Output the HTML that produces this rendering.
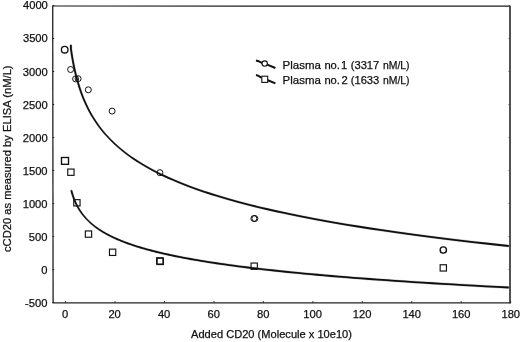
<!DOCTYPE html>
<html><head><meta charset="utf-8"><title>cCD20 ELISA</title>
<style>
html,body{margin:0;padding:0;background:#fff;}
svg{display:block;}
text{font-family:"Liberation Sans",Arial,sans-serif;font-size:11.2px;fill:#111;stroke:#111;stroke-width:0.25px;}
</style></head><body>
<svg width="520" height="342" viewBox="0 0 520 342">
<rect width="520" height="342" fill="#fff"/>
<g stroke="#222" fill="none">
<line x1="52.7" y1="6.0" x2="53.1" y2="303.0" stroke-width="1.3"/>
<line x1="52.5" y1="302.8" x2="510.7" y2="303.0" stroke-width="1.25"/>
<line x1="52.1" y1="6.0" x2="510.8" y2="6.2" stroke-width="1.15" stroke="#1a1a1a"/>
<line x1="510.0" y1="6.2" x2="510.0" y2="303.0" stroke-width="1.75" stroke="#3a3a3a"/>
<line x1="65.60" y1="303.0" x2="65.60" y2="301.2" stroke-width="1"/>
<line x1="115.05" y1="303.0" x2="115.05" y2="301.2" stroke-width="1"/>
<line x1="164.50" y1="303.0" x2="164.50" y2="301.2" stroke-width="1"/>
<line x1="213.95" y1="303.0" x2="213.95" y2="301.2" stroke-width="1"/>
<line x1="263.40" y1="303.0" x2="263.40" y2="301.2" stroke-width="1"/>
<line x1="312.85" y1="303.0" x2="312.85" y2="301.2" stroke-width="1"/>
<line x1="362.30" y1="303.0" x2="362.30" y2="301.2" stroke-width="1"/>
<line x1="411.75" y1="303.0" x2="411.75" y2="301.2" stroke-width="1"/>
<line x1="461.20" y1="303.0" x2="461.20" y2="301.2" stroke-width="1"/>
<line x1="510.65" y1="303.0" x2="510.65" y2="301.2" stroke-width="1"/>
<line x1="52.6" y1="302.50" x2="54.2" y2="302.50" stroke-width="1"/>
<line x1="510.0" y1="302.50" x2="508.5" y2="302.50" stroke-width="0.8" stroke="#444"/>
<line x1="52.6" y1="269.50" x2="54.2" y2="269.50" stroke-width="1"/>
<line x1="510.0" y1="269.50" x2="508.5" y2="269.50" stroke-width="0.8" stroke="#444"/>
<line x1="52.6" y1="236.50" x2="54.2" y2="236.50" stroke-width="1"/>
<line x1="510.0" y1="236.50" x2="508.5" y2="236.50" stroke-width="0.8" stroke="#444"/>
<line x1="52.6" y1="203.50" x2="54.2" y2="203.50" stroke-width="1"/>
<line x1="510.0" y1="203.50" x2="508.5" y2="203.50" stroke-width="0.8" stroke="#444"/>
<line x1="52.6" y1="170.50" x2="54.2" y2="170.50" stroke-width="1"/>
<line x1="510.0" y1="170.50" x2="508.5" y2="170.50" stroke-width="0.8" stroke="#444"/>
<line x1="52.6" y1="137.50" x2="54.2" y2="137.50" stroke-width="1"/>
<line x1="510.0" y1="137.50" x2="508.5" y2="137.50" stroke-width="0.8" stroke="#444"/>
<line x1="52.6" y1="104.50" x2="54.2" y2="104.50" stroke-width="1"/>
<line x1="510.0" y1="104.50" x2="508.5" y2="104.50" stroke-width="0.8" stroke="#444"/>
<line x1="52.6" y1="71.50" x2="54.2" y2="71.50" stroke-width="1"/>
<line x1="510.0" y1="71.50" x2="508.5" y2="71.50" stroke-width="0.8" stroke="#444"/>
<line x1="52.6" y1="38.50" x2="54.2" y2="38.50" stroke-width="1"/>
<line x1="510.0" y1="38.50" x2="508.5" y2="38.50" stroke-width="0.8" stroke="#444"/>
<line x1="52.6" y1="5.50" x2="54.2" y2="5.50" stroke-width="1"/>
<line x1="510.0" y1="5.50" x2="508.5" y2="5.50" stroke-width="0.8" stroke="#444"/>
</g>
<text x="65.10" y="318.3" text-anchor="middle">0</text>
<text x="114.62" y="318.3" text-anchor="middle">20</text>
<text x="164.13" y="318.3" text-anchor="middle">40</text>
<text x="213.65" y="318.3" text-anchor="middle">60</text>
<text x="263.17" y="318.3" text-anchor="middle">80</text>
<text x="312.68" y="318.3" text-anchor="middle">100</text>
<text x="362.20" y="318.3" text-anchor="middle">120</text>
<text x="411.72" y="318.3" text-anchor="middle">140</text>
<text x="461.23" y="318.3" text-anchor="middle">160</text>
<text x="510.75" y="318.3" text-anchor="middle">180</text>
<text x="47.40" y="307.25" text-anchor="end">-500</text>
<text x="47.45" y="274.15" text-anchor="end">0</text>
<text x="47.50" y="241.05" text-anchor="end">500</text>
<text x="47.55" y="207.95" text-anchor="end">1000</text>
<text x="47.60" y="174.85" text-anchor="end">1500</text>
<text x="47.65" y="141.75" text-anchor="end">2000</text>
<text x="47.70" y="108.65" text-anchor="end">2500</text>
<text x="47.75" y="75.55" text-anchor="end">3000</text>
<text x="47.80" y="42.45" text-anchor="end">3500</text>
<text x="47.85" y="9.35" text-anchor="end">4000</text>
<text x="191" y="337.6" style="font-size:10.8px" textLength="161" lengthAdjust="spacingAndGlyphs">Added CD20 (Molecule x 10e10)</text>
<text transform="translate(10.5,252.0) rotate(-90)" textLength="186.6" lengthAdjust="spacingAndGlyphs">cCD20 as measured by ELISA (nM/L)</text>
<path d="M70.85,44.10 L70.94,47.98 L71.11,49.21 L71.30,50.45 L71.48,51.68 L71.67,52.91 L71.87,54.14 L72.07,55.37 L72.28,56.61 L72.50,57.84 L72.71,59.07 L72.94,60.30 L73.17,61.53 L73.41,62.77 L73.65,64.00 L73.90,65.23 L74.16,66.46 L74.42,67.69 L74.69,68.92 L74.97,70.16 L75.25,71.39 L75.54,72.62 L75.84,73.85 L76.15,75.08 L76.47,76.32 L76.79,77.55 L77.12,78.78 L77.47,80.01 L77.82,81.24 L78.18,82.47 L78.55,83.71 L78.93,84.94 L79.32,86.17 L79.72,87.40 L80.13,88.63 L80.55,89.87 L80.98,91.10 L81.43,92.33 L81.89,93.56 L82.35,94.79 L82.84,96.02 L83.33,97.26 L83.84,98.49 L84.36,99.72 L84.89,100.95 L85.44,102.18 L86.00,103.42 L86.58,104.65 L87.17,105.88 L87.78,107.11 L88.41,108.34 L89.05,109.57 L89.71,110.81 L90.39,112.04 L91.08,113.27 L91.79,114.50 L92.53,115.73 L93.28,116.97 L94.05,118.20 L94.84,119.43 L95.65,120.66 L96.49,121.89 L97.35,123.13 L98.23,124.36 L99.13,125.59 L100.06,126.82 L101.01,128.05 L101.98,129.28 L102.99,130.52 L104.02,131.75 L105.07,132.98 L106.16,134.21 L107.27,135.44 L108.42,136.68 L109.59,137.91 L110.80,139.14 L112.03,140.37 L113.30,141.60 L114.61,142.83 L115.95,144.07 L117.32,145.30 L118.73,146.53 L120.18,147.76 L121.66,148.99 L123.19,150.23 L124.76,151.46 L126.37,152.69 L128.02,153.92 L129.71,155.15 L131.45,156.38 L133.24,157.62 L135.07,158.85 L136.96,160.08 L138.89,161.31 L140.87,162.54 L142.91,163.78 L145.00,165.01 L147.15,166.24 L149.35,167.47 L151.61,168.70 L153.94,169.93 L156.32,171.17 L158.77,172.40 L161.28,173.63 L163.86,174.86 L166.51,176.09 L169.23,177.33 L172.02,178.56 L174.88,179.79 L177.82,181.02 L180.84,182.25 L183.94,183.49 L187.12,184.72 L190.39,185.95 L193.74,187.18 L197.19,188.41 L200.72,189.64 L204.35,190.88 L208.07,192.11 L211.90,193.34 L215.82,194.57 L219.85,195.80 L223.99,197.04 L228.23,198.27 L232.59,199.50 L237.07,200.73 L241.66,201.96 L246.38,203.19 L251.22,204.43 L256.19,205.66 L261.30,206.89 L266.53,208.12 L271.91,209.35 L277.43,210.59 L283.10,211.82 L288.92,213.05 L294.89,214.28 L301.02,215.51 L307.32,216.74 L313.78,217.98 L320.42,219.21 L327.23,220.44 L334.22,221.67 L341.39,222.90 L348.76,224.14 L356.33,225.37 L364.09,226.60 L372.06,227.83 L380.25,229.06 L388.65,230.30 L397.27,231.53 L406.13,232.76 L415.22,233.99 L424.55,235.22 L434.12,236.45 L443.96,237.69 L454.05,238.92 L464.42,240.15 L475.06,241.38 L485.98,242.61 L497.19,243.85 L508.70,245.08 L508.70,246.88 L497.19,245.65 L485.98,244.41 L475.06,243.18 L464.42,241.95 L454.05,240.72 L443.96,239.49 L434.12,238.25 L424.55,237.02 L415.22,235.79 L406.13,234.56 L397.27,233.33 L388.65,232.10 L380.25,230.86 L372.06,229.63 L364.09,228.40 L356.33,227.17 L348.76,225.94 L341.39,224.70 L334.22,223.47 L327.23,222.24 L320.42,221.01 L313.78,219.78 L307.32,218.54 L301.02,217.31 L294.89,216.08 L288.92,214.85 L283.10,213.62 L277.43,212.39 L271.91,211.15 L266.53,209.92 L261.30,208.69 L256.19,207.46 L251.22,206.23 L246.38,204.99 L241.66,203.76 L237.07,202.53 L232.59,201.30 L228.23,200.07 L223.99,198.84 L219.85,197.60 L215.82,196.37 L211.90,195.14 L208.07,193.91 L204.35,192.68 L200.72,191.44 L197.19,190.21 L193.74,188.98 L190.39,187.75 L187.12,186.52 L183.94,185.29 L180.84,184.05 L177.82,182.82 L174.88,181.59 L172.02,180.36 L169.23,179.13 L166.51,177.89 L163.86,176.66 L161.28,175.43 L158.77,174.20 L156.32,172.97 L153.94,171.73 L151.61,170.50 L149.35,169.27 L147.15,168.04 L145.00,166.81 L142.91,165.58 L140.87,164.34 L138.89,163.11 L136.96,161.88 L135.07,160.65 L133.24,159.42 L131.45,158.18 L129.71,156.95 L128.02,155.72 L126.37,154.49 L124.76,153.26 L123.19,152.03 L121.66,150.79 L120.18,149.56 L118.73,148.33 L117.32,147.10 L115.95,145.87 L114.61,144.63 L113.30,143.40 L112.03,142.17 L110.80,140.94 L109.59,139.71 L108.42,138.48 L107.27,137.24 L106.16,136.01 L105.07,134.78 L104.02,133.55 L102.99,132.32 L101.98,131.08 L101.01,129.85 L100.06,128.62 L99.13,127.39 L98.23,126.16 L97.35,124.93 L96.49,123.69 L95.65,122.46 L94.84,121.23 L94.05,120.00 L93.28,118.77 L92.53,117.53 L91.79,116.30 L91.08,115.07 L90.39,113.84 L89.71,112.61 L89.05,111.37 L88.41,110.14 L87.78,108.91 L87.17,107.68 L86.58,106.45 L86.00,105.22 L85.44,103.98 L84.89,102.75 L84.36,101.52 L83.84,100.29 L83.33,99.06 L82.84,97.82 L82.35,96.59 L81.89,95.36 L81.43,94.13 L80.98,92.90 L80.55,91.67 L80.13,90.43 L79.72,89.20 L79.32,87.97 L78.93,86.74 L78.55,85.51 L78.18,84.27 L77.82,83.04 L77.47,81.81 L77.12,80.58 L76.79,79.35 L76.47,78.12 L76.15,76.88 L75.84,75.65 L75.54,74.42 L75.25,73.19 L74.97,71.96 L74.69,70.72 L74.42,69.49 L74.16,68.26 L73.90,67.03 L73.65,65.80 L73.41,64.57 L73.17,63.33 L72.94,62.10 L72.71,60.87 L72.50,59.64 L72.28,58.41 L72.07,57.17 L71.87,55.94 L71.67,54.71 L71.48,53.48 L71.30,52.25 L71.11,51.01 L70.94,49.78 L70.85,45.90Z M71.75,45.00 L71.84,48.88 L72.01,50.11 L72.20,51.35 L72.38,52.58 L72.57,53.81 L72.77,55.04 L72.97,56.27 L73.18,57.51 L73.40,58.74 L73.61,59.97 L73.84,61.20 L74.07,62.43 L74.31,63.67 L74.55,64.90 L74.80,66.13 L75.06,67.36 L75.32,68.59 L75.59,69.82 L75.87,71.06 L76.15,72.29 L76.44,73.52 L76.74,74.75 L77.05,75.98 L77.37,77.22 L77.69,78.45 L78.02,79.68 L78.37,80.91 L78.72,82.14 L79.08,83.37 L79.45,84.61 L79.83,85.84 L80.22,87.07 L80.62,88.30 L81.03,89.53 L81.45,90.77 L81.88,92.00 L82.33,93.23 L82.79,94.46 L83.25,95.69 L83.74,96.92 L84.23,98.16 L84.74,99.39 L85.26,100.62 L85.79,101.85 L86.34,103.08 L86.90,104.32 L87.48,105.55 L88.07,106.78 L88.68,108.01 L89.31,109.24 L89.95,110.47 L90.61,111.71 L91.29,112.94 L91.98,114.17 L92.69,115.40 L93.43,116.63 L94.18,117.87 L94.95,119.10 L95.74,120.33 L96.55,121.56 L97.39,122.79 L98.25,124.03 L99.13,125.26 L100.03,126.49 L100.96,127.72 L101.91,128.95 L102.88,130.18 L103.89,131.42 L104.92,132.65 L105.97,133.88 L107.06,135.11 L108.17,136.34 L109.32,137.58 L110.49,138.81 L111.70,140.04 L112.93,141.27 L114.20,142.50 L115.51,143.73 L116.85,144.97 L118.22,146.20 L119.63,147.43 L121.08,148.66 L122.56,149.89 L124.09,151.13 L125.66,152.36 L127.27,153.59 L128.92,154.82 L130.61,156.05 L132.35,157.28 L134.14,158.52 L135.97,159.75 L137.86,160.98 L139.79,162.21 L141.77,163.44 L143.81,164.68 L145.90,165.91 L148.05,167.14 L150.25,168.37 L152.51,169.60 L154.84,170.83 L157.22,172.07 L159.67,173.30 L162.18,174.53 L164.76,175.76 L167.41,176.99 L170.13,178.23 L172.92,179.46 L175.78,180.69 L178.72,181.92 L181.74,183.15 L184.84,184.39 L188.02,185.62 L191.29,186.85 L194.64,188.08 L198.09,189.31 L201.62,190.54 L205.25,191.78 L208.97,193.01 L212.80,194.24 L216.72,195.47 L220.75,196.70 L224.89,197.94 L229.13,199.17 L233.49,200.40 L237.97,201.63 L242.56,202.86 L247.28,204.09 L252.12,205.33 L257.09,206.56 L262.20,207.79 L267.43,209.02 L272.81,210.25 L278.33,211.49 L284.00,212.72 L289.82,213.95 L295.79,215.18 L301.92,216.41 L308.22,217.64 L314.68,218.88 L321.32,220.11 L328.13,221.34 L335.12,222.57 L342.29,223.80 L349.66,225.04 L357.23,226.27 L364.99,227.50 L372.96,228.73 L381.15,229.96 L389.55,231.20 L398.17,232.43 L407.03,233.66 L416.12,234.89 L425.45,236.12 L435.02,237.35 L444.86,238.59 L454.95,239.82 L465.32,241.05 L475.96,242.28 L486.88,243.51 L498.09,244.75 L509.60,245.98 L507.80,245.98 L496.29,244.75 L485.08,243.51 L474.16,242.28 L463.52,241.05 L453.15,239.82 L443.06,238.59 L433.22,237.35 L423.65,236.12 L414.32,234.89 L405.23,233.66 L396.37,232.43 L387.75,231.20 L379.35,229.96 L371.16,228.73 L363.19,227.50 L355.43,226.27 L347.86,225.04 L340.49,223.80 L333.32,222.57 L326.33,221.34 L319.52,220.11 L312.88,218.88 L306.42,217.64 L300.12,216.41 L293.99,215.18 L288.02,213.95 L282.20,212.72 L276.53,211.49 L271.01,210.25 L265.63,209.02 L260.40,207.79 L255.29,206.56 L250.32,205.33 L245.48,204.09 L240.76,202.86 L236.17,201.63 L231.69,200.40 L227.33,199.17 L223.09,197.94 L218.95,196.70 L214.92,195.47 L211.00,194.24 L207.17,193.01 L203.45,191.78 L199.82,190.54 L196.29,189.31 L192.84,188.08 L189.49,186.85 L186.22,185.62 L183.04,184.39 L179.94,183.15 L176.92,181.92 L173.98,180.69 L171.12,179.46 L168.33,178.23 L165.61,176.99 L162.96,175.76 L160.38,174.53 L157.87,173.30 L155.42,172.07 L153.04,170.83 L150.71,169.60 L148.45,168.37 L146.25,167.14 L144.10,165.91 L142.01,164.68 L139.97,163.44 L137.99,162.21 L136.06,160.98 L134.17,159.75 L132.34,158.52 L130.55,157.28 L128.81,156.05 L127.12,154.82 L125.47,153.59 L123.86,152.36 L122.29,151.13 L120.76,149.89 L119.28,148.66 L117.83,147.43 L116.42,146.20 L115.05,144.97 L113.71,143.73 L112.40,142.50 L111.13,141.27 L109.90,140.04 L108.69,138.81 L107.52,137.58 L106.37,136.34 L105.26,135.11 L104.17,133.88 L103.12,132.65 L102.09,131.42 L101.08,130.18 L100.11,128.95 L99.16,127.72 L98.23,126.49 L97.33,125.26 L96.45,124.03 L95.59,122.79 L94.75,121.56 L93.94,120.33 L93.15,119.10 L92.38,117.87 L91.63,116.63 L90.89,115.40 L90.18,114.17 L89.49,112.94 L88.81,111.71 L88.15,110.47 L87.51,109.24 L86.88,108.01 L86.27,106.78 L85.68,105.55 L85.10,104.32 L84.54,103.08 L83.99,101.85 L83.46,100.62 L82.94,99.39 L82.43,98.16 L81.94,96.92 L81.45,95.69 L80.99,94.46 L80.53,93.23 L80.08,92.00 L79.65,90.77 L79.23,89.53 L78.82,88.30 L78.42,87.07 L78.03,85.84 L77.65,84.61 L77.28,83.37 L76.92,82.14 L76.57,80.91 L76.22,79.68 L75.89,78.45 L75.57,77.22 L75.25,75.98 L74.94,74.75 L74.64,73.52 L74.35,72.29 L74.07,71.06 L73.79,69.82 L73.52,68.59 L73.26,67.36 L73.00,66.13 L72.75,64.90 L72.51,63.67 L72.27,62.43 L72.04,61.20 L71.81,59.97 L71.60,58.74 L71.38,57.51 L71.17,56.27 L70.97,55.04 L70.77,53.81 L70.58,52.58 L70.40,51.35 L70.21,50.11 L70.04,48.88 L69.95,45.00Z" fill="#111" fill-rule="nonzero" stroke="#111" stroke-width="0.2" stroke-linejoin="round"/>
<path d="M71.33,189.61 L71.50,190.22 L71.66,190.83 L71.84,191.43 L72.01,192.04 L72.20,192.64 L72.38,193.25 L72.57,193.86 L72.77,194.46 L72.97,195.07 L73.18,195.67 L73.39,196.28 L73.61,196.89 L73.84,197.49 L74.07,198.10 L74.31,198.71 L74.55,199.31 L74.80,199.92 L75.06,200.52 L75.33,201.13 L75.60,201.74 L75.88,202.34 L76.17,202.95 L76.46,203.55 L76.76,204.16 L77.07,204.77 L77.39,205.37 L77.72,205.98 L78.06,206.58 L78.41,207.19 L78.76,207.80 L79.13,208.40 L79.51,209.01 L79.89,209.62 L80.29,210.22 L80.70,210.83 L81.11,211.43 L81.54,212.04 L81.99,212.65 L82.44,213.25 L82.90,213.86 L83.38,214.46 L83.88,215.07 L84.38,215.68 L84.90,216.28 L85.43,216.89 L85.98,217.50 L86.54,218.10 L87.12,218.71 L87.72,219.31 L88.33,219.92 L88.95,220.53 L89.60,221.13 L90.26,221.74 L90.94,222.34 L91.63,222.95 L92.35,223.56 L93.09,224.16 L93.84,224.77 L94.62,225.38 L95.42,225.98 L96.24,226.59 L97.08,227.19 L97.95,227.80 L98.84,228.41 L99.75,229.01 L100.69,229.62 L101.65,230.22 L102.64,230.83 L103.66,231.44 L104.70,232.04 L105.78,232.65 L106.88,233.25 L108.01,233.86 L109.18,234.47 L110.37,235.07 L111.60,235.68 L112.86,236.29 L114.16,236.89 L115.49,237.50 L116.85,238.10 L118.26,238.71 L119.70,239.32 L121.19,239.92 L122.71,240.53 L124.27,241.13 L125.88,241.74 L127.53,242.35 L129.23,242.95 L130.97,243.56 L132.76,244.17 L134.60,244.77 L136.49,245.38 L138.43,245.98 L140.42,246.59 L142.47,247.20 L144.57,247.80 L146.73,248.41 L148.95,249.01 L151.23,249.62 L153.57,250.23 L155.98,250.83 L158.45,251.44 L160.99,252.05 L163.60,252.65 L166.28,253.26 L169.03,253.86 L171.86,254.47 L174.76,255.08 L177.75,255.68 L180.81,256.29 L183.96,256.89 L187.20,257.50 L190.52,258.11 L193.93,258.71 L197.44,259.32 L201.04,259.92 L204.74,260.53 L208.54,261.14 L212.45,261.74 L216.46,262.35 L220.58,262.96 L224.82,263.56 L229.17,264.17 L233.63,264.77 L238.22,265.38 L242.94,265.99 L247.78,266.59 L252.76,267.20 L257.87,267.80 L263.12,268.41 L268.51,269.02 L274.05,269.62 L279.75,270.23 L285.59,270.84 L291.60,271.44 L297.77,272.05 L304.11,272.65 L310.62,273.26 L317.31,273.87 L324.18,274.47 L331.24,275.08 L338.50,275.68 L345.95,276.29 L353.60,276.90 L361.46,277.50 L369.54,278.11 L377.83,278.72 L386.36,279.32 L395.11,279.93 L404.10,280.53 L413.34,281.14 L422.83,281.75 L432.58,282.35 L442.60,282.96 L452.89,283.56 L463.46,284.17 L474.32,284.78 L485.47,285.38 L496.93,285.99 L508.70,286.59 L508.70,288.39 L496.93,287.79 L485.47,287.18 L474.32,286.58 L463.46,285.97 L452.89,285.36 L442.60,284.76 L432.58,284.15 L422.83,283.55 L413.34,282.94 L404.10,282.33 L395.11,281.73 L386.36,281.12 L377.83,280.52 L369.54,279.91 L361.46,279.30 L353.60,278.70 L345.95,278.09 L338.50,277.48 L331.24,276.88 L324.18,276.27 L317.31,275.67 L310.62,275.06 L304.11,274.45 L297.77,273.85 L291.60,273.24 L285.59,272.64 L279.75,272.03 L274.05,271.42 L268.51,270.82 L263.12,270.21 L257.87,269.60 L252.76,269.00 L247.78,268.39 L242.94,267.79 L238.22,267.18 L233.63,266.57 L229.17,265.97 L224.82,265.36 L220.58,264.76 L216.46,264.15 L212.45,263.54 L208.54,262.94 L204.74,262.33 L201.04,261.72 L197.44,261.12 L193.93,260.51 L190.52,259.91 L187.20,259.30 L183.96,258.69 L180.81,258.09 L177.75,257.48 L174.76,256.88 L171.86,256.27 L169.03,255.66 L166.28,255.06 L163.60,254.45 L160.99,253.85 L158.45,253.24 L155.98,252.63 L153.57,252.03 L151.23,251.42 L148.95,250.81 L146.73,250.21 L144.57,249.60 L142.47,249.00 L140.42,248.39 L138.43,247.78 L136.49,247.18 L134.60,246.57 L132.76,245.97 L130.97,245.36 L129.23,244.75 L127.53,244.15 L125.88,243.54 L124.27,242.93 L122.71,242.33 L121.19,241.72 L119.70,241.12 L118.26,240.51 L116.85,239.90 L115.49,239.30 L114.16,238.69 L112.86,238.09 L111.60,237.48 L110.37,236.87 L109.18,236.27 L108.01,235.66 L106.88,235.05 L105.78,234.45 L104.70,233.84 L103.66,233.24 L102.64,232.63 L101.65,232.02 L100.69,231.42 L99.75,230.81 L98.84,230.21 L97.95,229.60 L97.08,228.99 L96.24,228.39 L95.42,227.78 L94.62,227.18 L93.84,226.57 L93.09,225.96 L92.35,225.36 L91.63,224.75 L90.94,224.14 L90.26,223.54 L89.60,222.93 L88.95,222.33 L88.33,221.72 L87.72,221.11 L87.12,220.51 L86.54,219.90 L85.98,219.30 L85.43,218.69 L84.90,218.08 L84.38,217.48 L83.88,216.87 L83.38,216.26 L82.90,215.66 L82.44,215.05 L81.99,214.45 L81.54,213.84 L81.11,213.23 L80.70,212.63 L80.29,212.02 L79.89,211.42 L79.51,210.81 L79.13,210.20 L78.76,209.60 L78.41,208.99 L78.06,208.38 L77.72,207.78 L77.39,207.17 L77.07,206.57 L76.76,205.96 L76.46,205.35 L76.17,204.75 L75.88,204.14 L75.60,203.54 L75.33,202.93 L75.06,202.32 L74.80,201.72 L74.55,201.11 L74.31,200.51 L74.07,199.90 L73.84,199.29 L73.61,198.69 L73.39,198.08 L73.18,197.47 L72.97,196.87 L72.77,196.26 L72.57,195.66 L72.38,195.05 L72.20,194.44 L72.01,193.84 L71.84,193.23 L71.66,192.63 L71.50,192.02 L71.33,191.41Z M72.23,190.51 L72.40,191.12 L72.56,191.73 L72.74,192.33 L72.91,192.94 L73.10,193.54 L73.28,194.15 L73.47,194.76 L73.67,195.36 L73.87,195.97 L74.08,196.57 L74.29,197.18 L74.51,197.79 L74.74,198.39 L74.97,199.00 L75.21,199.61 L75.45,200.21 L75.70,200.82 L75.96,201.42 L76.23,202.03 L76.50,202.64 L76.78,203.24 L77.07,203.85 L77.36,204.45 L77.66,205.06 L77.97,205.67 L78.29,206.27 L78.62,206.88 L78.96,207.48 L79.31,208.09 L79.66,208.70 L80.03,209.30 L80.41,209.91 L80.79,210.52 L81.19,211.12 L81.60,211.73 L82.01,212.33 L82.44,212.94 L82.89,213.55 L83.34,214.15 L83.80,214.76 L84.28,215.36 L84.78,215.97 L85.28,216.58 L85.80,217.18 L86.33,217.79 L86.88,218.40 L87.44,219.00 L88.02,219.61 L88.62,220.21 L89.23,220.82 L89.85,221.43 L90.50,222.03 L91.16,222.64 L91.84,223.24 L92.53,223.85 L93.25,224.46 L93.99,225.06 L94.74,225.67 L95.52,226.28 L96.32,226.88 L97.14,227.49 L97.98,228.09 L98.85,228.70 L99.74,229.31 L100.65,229.91 L101.59,230.52 L102.55,231.12 L103.54,231.73 L104.56,232.34 L105.60,232.94 L106.68,233.55 L107.78,234.15 L108.91,234.76 L110.08,235.37 L111.27,235.97 L112.50,236.58 L113.76,237.19 L115.06,237.79 L116.39,238.40 L117.75,239.00 L119.16,239.61 L120.60,240.22 L122.09,240.82 L123.61,241.43 L125.17,242.03 L126.78,242.64 L128.43,243.25 L130.13,243.85 L131.87,244.46 L133.66,245.07 L135.50,245.67 L137.39,246.28 L139.33,246.88 L141.32,247.49 L143.37,248.10 L145.47,248.70 L147.63,249.31 L149.85,249.91 L152.13,250.52 L154.47,251.13 L156.88,251.73 L159.35,252.34 L161.89,252.95 L164.50,253.55 L167.18,254.16 L169.93,254.76 L172.76,255.37 L175.66,255.98 L178.65,256.58 L181.71,257.19 L184.86,257.79 L188.10,258.40 L191.42,259.01 L194.83,259.61 L198.34,260.22 L201.94,260.82 L205.64,261.43 L209.44,262.04 L213.35,262.64 L217.36,263.25 L221.48,263.86 L225.72,264.46 L230.07,265.07 L234.53,265.67 L239.12,266.28 L243.84,266.89 L248.68,267.49 L253.66,268.10 L258.77,268.70 L264.02,269.31 L269.41,269.92 L274.95,270.52 L280.65,271.13 L286.49,271.74 L292.50,272.34 L298.67,272.95 L305.01,273.55 L311.52,274.16 L318.21,274.77 L325.08,275.37 L332.14,275.98 L339.40,276.58 L346.85,277.19 L354.50,277.80 L362.36,278.40 L370.44,279.01 L378.73,279.62 L387.26,280.22 L396.01,280.83 L405.00,281.43 L414.24,282.04 L423.73,282.65 L433.48,283.25 L443.50,283.86 L453.79,284.46 L464.36,285.07 L475.22,285.68 L486.37,286.28 L497.83,286.89 L509.60,287.49 L507.80,287.49 L496.03,286.89 L484.57,286.28 L473.42,285.68 L462.56,285.07 L451.99,284.46 L441.70,283.86 L431.68,283.25 L421.93,282.65 L412.44,282.04 L403.20,281.43 L394.21,280.83 L385.46,280.22 L376.93,279.62 L368.64,279.01 L360.56,278.40 L352.70,277.80 L345.05,277.19 L337.60,276.58 L330.34,275.98 L323.28,275.37 L316.41,274.77 L309.72,274.16 L303.21,273.55 L296.87,272.95 L290.70,272.34 L284.69,271.74 L278.85,271.13 L273.15,270.52 L267.61,269.92 L262.22,269.31 L256.97,268.70 L251.86,268.10 L246.88,267.49 L242.04,266.89 L237.32,266.28 L232.73,265.67 L228.27,265.07 L223.92,264.46 L219.68,263.86 L215.56,263.25 L211.55,262.64 L207.64,262.04 L203.84,261.43 L200.14,260.82 L196.54,260.22 L193.03,259.61 L189.62,259.01 L186.30,258.40 L183.06,257.79 L179.91,257.19 L176.85,256.58 L173.86,255.98 L170.96,255.37 L168.13,254.76 L165.38,254.16 L162.70,253.55 L160.09,252.95 L157.55,252.34 L155.08,251.73 L152.67,251.13 L150.33,250.52 L148.05,249.91 L145.83,249.31 L143.67,248.70 L141.57,248.10 L139.52,247.49 L137.53,246.88 L135.59,246.28 L133.70,245.67 L131.86,245.07 L130.07,244.46 L128.33,243.85 L126.63,243.25 L124.98,242.64 L123.37,242.03 L121.81,241.43 L120.29,240.82 L118.80,240.22 L117.36,239.61 L115.95,239.00 L114.59,238.40 L113.26,237.79 L111.96,237.19 L110.70,236.58 L109.47,235.97 L108.28,235.37 L107.11,234.76 L105.98,234.15 L104.88,233.55 L103.80,232.94 L102.76,232.34 L101.74,231.73 L100.75,231.12 L99.79,230.52 L98.85,229.91 L97.94,229.31 L97.05,228.70 L96.18,228.09 L95.34,227.49 L94.52,226.88 L93.72,226.28 L92.94,225.67 L92.19,225.06 L91.45,224.46 L90.73,223.85 L90.04,223.24 L89.36,222.64 L88.70,222.03 L88.05,221.43 L87.43,220.82 L86.82,220.21 L86.22,219.61 L85.64,219.00 L85.08,218.40 L84.53,217.79 L84.00,217.18 L83.48,216.58 L82.98,215.97 L82.48,215.36 L82.00,214.76 L81.54,214.15 L81.09,213.55 L80.64,212.94 L80.21,212.33 L79.80,211.73 L79.39,211.12 L78.99,210.52 L78.61,209.91 L78.23,209.30 L77.86,208.70 L77.51,208.09 L77.16,207.48 L76.82,206.88 L76.49,206.27 L76.17,205.67 L75.86,205.06 L75.56,204.45 L75.27,203.85 L74.98,203.24 L74.70,202.64 L74.43,202.03 L74.16,201.42 L73.90,200.82 L73.65,200.21 L73.41,199.61 L73.17,199.00 L72.94,198.39 L72.71,197.79 L72.49,197.18 L72.28,196.57 L72.07,195.97 L71.87,195.36 L71.67,194.76 L71.48,194.15 L71.30,193.54 L71.11,192.94 L70.94,192.33 L70.76,191.73 L70.60,191.12 L70.43,190.51Z" fill="#111" fill-rule="nonzero" stroke="#111" stroke-width="0.2" stroke-linejoin="round"/>
<g fill="none" stroke="#111" stroke-width="1.15">
<circle cx="64.7" cy="49.7" r="3.3" stroke-width="1.35"/>
<circle cx="70.6" cy="69.5" r="3.0" stroke-width="1"/>
<circle cx="75.6" cy="78.9" r="3.0" stroke-width="1"/>
<circle cx="78.1" cy="78.7" r="3.0" stroke-width="1"/>
<circle cx="88.3" cy="89.8" r="3.0" stroke-width="1"/>
<circle cx="112.1" cy="111.1" r="3.0" stroke-width="1"/>
<circle cx="159.9" cy="172.7" r="3.0" stroke-width="1"/>
<circle cx="253.9" cy="218.5" r="3.0" stroke-width="1"/>
<circle cx="254.9" cy="218.5" r="3.0" stroke-width="1"/>
<circle cx="443.3" cy="250.0" r="3.15" stroke-width="1.4"/>
<rect x="61.50" y="157.50" width="7" height="6.8" stroke-width="1.35"/>
<rect x="67.75" y="169.05" width="6.3" height="6.3"/>
<rect x="73.75" y="199.65" width="6.3" height="6.3"/>
<rect x="85.35" y="230.95" width="6.3" height="6.3"/>
<rect x="109.45" y="249.15" width="6.3" height="6.3"/>
<rect x="156.65" y="257.75" width="6.3" height="6.3"/>
<rect x="157.15" y="258.25" width="6.3" height="6.3"/>
<rect x="251.05" y="263.05" width="6.3" height="6.3"/>
<rect x="440.15" y="264.75" width="6.3" height="6.3"/>
</g>
<g fill="none" stroke="#111" stroke-width="2" stroke-linecap="butt">
<path d="M256.0,60.5 L258.5,61.2 L262.4,63.1 M267.2,64.6 L275.4,68.0"/>
<path d="M256.0,75.0 L258.5,75.8 L261.8,77.8 M267.8,80.3 L275.4,83.4"/>
</g>
<g fill="#fff" stroke="#111" stroke-width="1.1">
<circle cx="264.7" cy="63.6" r="2.7"/>
<rect x="261.8" y="76.2" width="5.9" height="6.2"/>
</g>
<text y="68.5"><tspan x="282.6" textLength="38.3" lengthAdjust="spacingAndGlyphs">Plasma</tspan><tspan x="324.4">no.</tspan><tspan x="340.9">1</tspan><tspan x="350.7">(3317</tspan><tspan x="383.0" textLength="26.6" lengthAdjust="spacingAndGlyphs">nM/L)</tspan></text>
<text y="84.0"><tspan x="282.6" textLength="38.3" lengthAdjust="spacingAndGlyphs">Plasma</tspan><tspan x="324.4">no.</tspan><tspan x="341.5">2</tspan><tspan x="350.7">(1633</tspan><tspan x="383.0" textLength="26.6" lengthAdjust="spacingAndGlyphs">nM/L)</tspan></text>
</svg></body></html>
